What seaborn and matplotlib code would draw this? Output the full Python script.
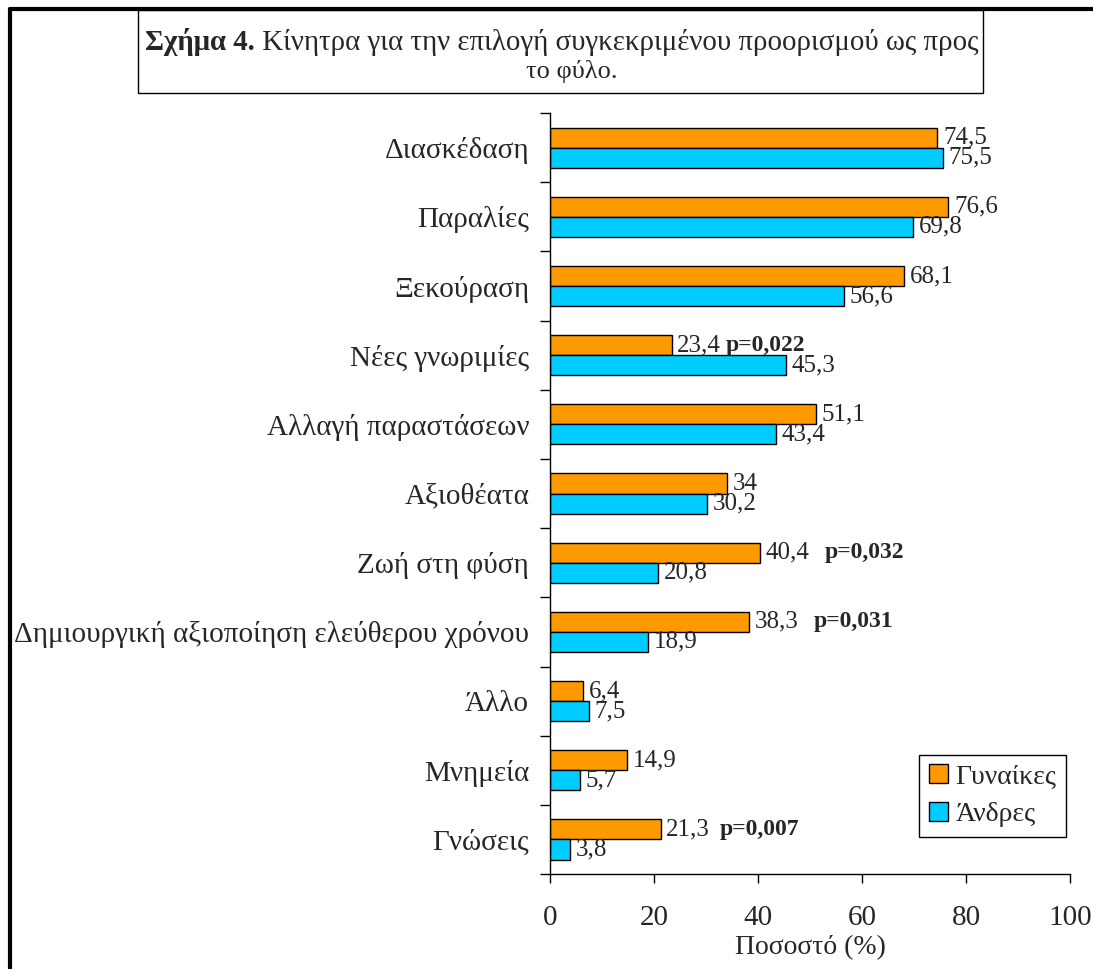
import pandas as pd
import matplotlib
matplotlib.use('Agg')
import matplotlib.pyplot as plt
import seaborn as sns
from matplotlib.lines import Line2D
from matplotlib.patches import Rectangle, Patch

categories = ['Διασκέδαση', 'Παραλίες', 'Ξεκούραση', 'Νέες γνωριμίες',
              'Αλλαγή παραστάσεων', 'Αξιοθέατα', 'Ζωή στη φύση',
              'Δημιουργική αξιοποίηση ελεύθερου χρόνου', 'Άλλο', 'Μνημεία', 'Γνώσεις']
women = [74.5, 76.6, 68.1, 23.4, 51.1, 34, 40.4, 38.3, 6.4, 14.9, 21.3]
men = [75.5, 69.8, 56.6, 45.3, 43.4, 30.2, 20.8, 18.9, 7.5, 5.7, 3.8]
groups = ['Γυναίκες', 'Άνδρες']
colors = ['#FF9900', '#00CCFF']

# significance notes: category, text, x position of the note
p_notes = [('Νέες γνωριμίες', 'p=0,022', 33.7),
           ('Ζωή στη φύση', 'p=0,032', 52.9),
           ('Δημιουργική αξιοποίηση ελεύθερου χρόνου', 'p=0,031', 50.8),
           ('Γνώσεις', 'p=0,007', 32.7)]

df = pd.DataFrame({'cat': categories * 2,
                   'val': women + men,
                   'group': [groups[0]] * len(women) + [groups[1]] * len(men)})

sns.set_style('white')
plt.rcParams['font.family'] = ['Liberation Serif', 'DejaVu Serif']

fig = plt.figure(figsize=(10.93, 9.69), dpi=100)
ax = fig.add_axes([0.5032, 0.098, 0.4758, 0.7853])

sns.barplot(data=df, x='val', y='cat', hue='group', orient='h',
            palette=colors, width=0.58, edgecolor='black', linewidth=1,
            saturation=1, ax=ax, legend=False)

def fmt(v):
    s = f'{v:g}'
    return s.replace('.', ',')

for cont, vals in zip(ax.containers, [women, men]):
    ax.bar_label(cont, labels=[fmt(v) for v in vals], padding=4, fontsize=18)

for cat, txt, xp in p_notes:
    i = categories.index(cat)
    ax.text(xp, i - 0.145, txt, fontsize=17, fontweight='bold', va='center')

ax.set_xlim(0, 100)
ax.set_ylim(len(categories) - 0.5, -0.5)
ax.set_xticks(range(0, 101, 20))
ax.tick_params(axis='x', direction='out', length=6.5, width=1, color='black',
               labelsize=21, pad=16, bottom=True)
ax.set_yticks(range(len(categories)))
ax.set_yticklabels(categories, fontsize=21)
ax.set_yticks([i - 0.5 for i in range(len(categories) + 1)], minor=True)
ax.tick_params(axis='y', which='major', length=0, pad=15)
ax.tick_params(axis='y', which='minor', direction='out', length=7, width=1,
               color='black', left=True)
ax.set_xlabel('Ποσοστό (%)', fontsize=20, labelpad=3)
ax.set_ylabel('')
for side in ['top', 'right']:
    ax.spines[side].set_visible(False)
for side in ['left', 'bottom']:
    ax.spines[side].set_color('black')
    ax.spines[side].set_linewidth(1)

handles = [Patch(facecolor=c, edgecolor='black', label=g) for c, g in zip(colors, groups)]
leg = ax.legend(handles=handles, loc='lower left', bbox_to_anchor=(0.7096, 0.0486),
                borderaxespad=0, fontsize=20, handlelength=0.68, handleheight=0.68,
                handletextpad=0.29, fancybox=False, framealpha=1, edgecolor='black',
                borderpad=0.35, labelspacing=0.45)
leg.get_frame().set_linewidth(1)

# page frame and caption box
fig.add_artist(Line2D([0.00915, 0.00915], [0, 0.9907], color='black', lw=3))
fig.add_artist(Line2D([0.00915, 1], [0.9907, 0.9907], color='black', lw=3))
fig.add_artist(Rectangle((0.1263, 0.904), 0.7731, 0.0857, transform=fig.transFigure,
                         fill=False, edgecolor='black', lw=1))
t1 = fig.text(0.1327, 0.9567, 'Σχήμα 4.', fontsize=20.8, fontweight='bold', va='center')
ax.annotate(' Κίνητρα για την επιλογή συγκεκριμένου προορισμού ως προς',
            xy=(1, 0), xycoords=t1, va='bottom', fontsize=20.8, annotation_clip=False)
fig.text(0.5233, 0.9257, 'το φύλο.', fontsize=19, ha='center', va='center')

fig.savefig('out.png', dpi=100)
